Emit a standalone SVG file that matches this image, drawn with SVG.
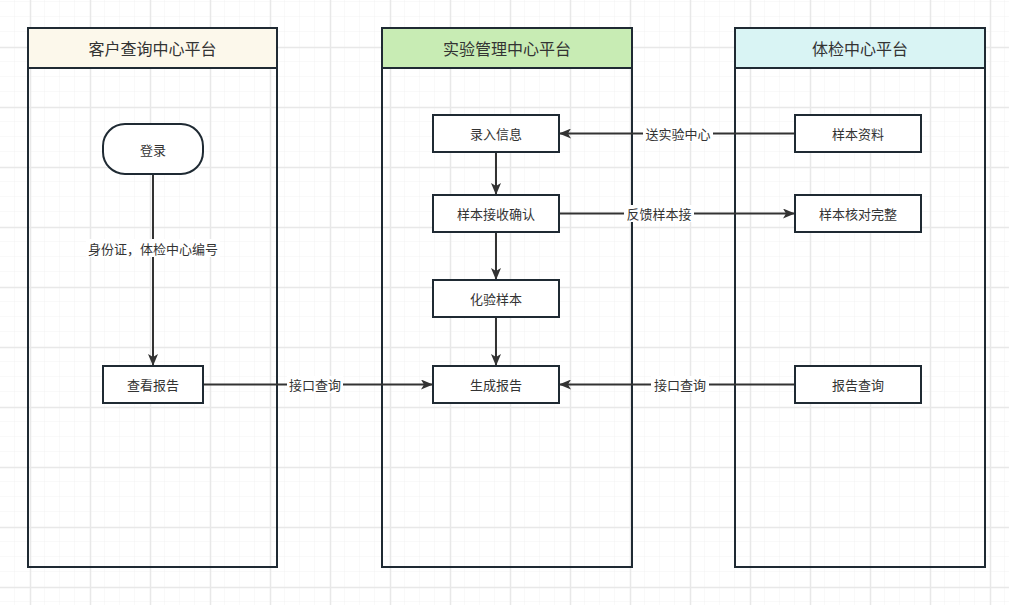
<svg xmlns="http://www.w3.org/2000/svg" width="1009" height="605" viewBox="0 0 1009 605">
<defs>
<pattern id="minor" x="0" y="2" width="15" height="15" patternUnits="userSpaceOnUse">
<path d="M15 0V15M0 15H15" fill="none" stroke="#f2f2f2" stroke-width="1"/>
</pattern>
<pattern id="major" x="30" y="47" width="60" height="60" patternUnits="userSpaceOnUse">
<path d="M0.5 0V60M0 0.5H60" fill="none" stroke="#e8e8e8" stroke-width="1.5"/>
</pattern>
<marker id="arr" viewBox="0 0 12 10" refX="11" refY="5" markerWidth="12" markerHeight="10" markerUnits="userSpaceOnUse" orient="auto">
<path d="M0 0L12 5L0 10L3 5Z" fill="#333"/>
</marker>
<style>
.lane{fill:none;stroke:#1f2a33;stroke-width:2}
.head{stroke:#1f2a33;stroke-width:2}
.htxt{font-family:"Noto Sans CJK SC","Noto Sans",sans-serif;font-size:16px;fill:#333;text-anchor:middle;dominant-baseline:central}
.box{fill:#fff;stroke:#1f2a33;stroke-width:2}
.ntxt{font-family:"Noto Sans CJK SC","Noto Sans",sans-serif;font-size:13px;fill:#333;text-anchor:middle;dominant-baseline:central}
.edge{fill:none;stroke:#333;stroke-width:2;marker-end:url(#arr)}
.lbg{fill:#fff}
.ltxt{font-family:"Noto Sans CJK SC","Noto Sans",sans-serif;font-size:13px;fill:#333;text-anchor:middle;dominant-baseline:central}
</style>
</defs>
<rect width="1009" height="605" fill="#fff"/>
<rect width="1009" height="605" fill="url(#minor)"/>
<rect width="1009" height="605" fill="url(#major)"/>

<g id="lane-customer">
<rect x="28" y="28" width="249" height="539" class="lane"/>
<rect x="28" y="28" width="249" height="40" fill="#fcf8eb" class="head"/>
<text x="152.5" y="48" class="htxt">客户查询中心平台</text>
</g>
<g id="lane-lab">
<rect x="382" y="28" width="250" height="539" class="lane"/>
<rect x="382" y="28" width="250" height="40" fill="#c8ecb4" class="head"/>
<text x="507" y="48" class="htxt">实验管理中心平台</text>
</g>
<g id="lane-exam">
<rect x="735" y="28" width="250" height="539" class="lane"/>
<rect x="735" y="28" width="250" height="40" fill="#d9f4f4" class="head"/>
<text x="860" y="48" class="htxt">体检中心平台</text>
</g>

<g id="connectors">
<line x1="153" y1="174" x2="153" y2="365" class="edge"/>
<line x1="203" y1="384.5" x2="432" y2="384.5" class="edge"/>
<line x1="795" y1="133.5" x2="560" y2="133.5" class="edge"/>
<line x1="559" y1="213.5" x2="794" y2="213.5" class="edge"/>
<line x1="795" y1="384.5" x2="560" y2="384.5" class="edge"/>
<line x1="496" y1="152" x2="496" y2="194" class="edge"/>
<line x1="496" y1="232" x2="496" y2="279" class="edge"/>
<line x1="496" y1="317" x2="496" y2="365" class="edge"/>
<rect x="86" y="239" width="134" height="18" class="lbg"/>
<text x="153" y="248" class="ltxt">身份证，体检中心编号</text>
<rect x="287" y="376" width="56" height="17" class="lbg"/>
<text x="315" y="384.5" class="ltxt">接口查询</text>
<rect x="643" y="125" width="70" height="17" class="lbg"/>
<text x="678" y="133.5" class="ltxt">送实验中心</text>
<rect x="624" y="205" width="70" height="17" class="lbg"/>
<text x="659" y="213.5" class="ltxt">反馈样本接</text>
<rect x="651" y="376" width="58" height="17" class="lbg"/>
<text x="680" y="384.5" class="ltxt">接口查询</text>
</g>

<g id="n-login">
<rect x="103" y="124" width="100" height="50" rx="22" ry="22" class="box"/>
<text x="153" y="149" class="ntxt">登录</text>
</g>
<g id="n-view">
<rect x="103" y="366" width="100" height="37" class="box"/>
<text x="153" y="384.5" class="ntxt">查看报告</text>
</g>
<g id="n-input">
<rect x="433" y="115" width="126" height="37" class="box"/>
<text x="496" y="133.5" class="ntxt">录入信息</text>
</g>
<g id="n-receive">
<rect x="433" y="195" width="126" height="37" class="box"/>
<text x="496" y="213.5" class="ntxt">样本接收确认</text>
</g>
<g id="n-test">
<rect x="433" y="280" width="126" height="37" class="box"/>
<text x="496" y="298.5" class="ntxt">化验样本</text>
</g>
<g id="n-report">
<rect x="433" y="366" width="126" height="37" class="box"/>
<text x="496" y="384.5" class="ntxt">生成报告</text>
</g>
<g id="n-sample">
<rect x="795" y="115" width="126" height="37" class="box"/>
<text x="858" y="133.5" class="ntxt">样本资料</text>
</g>
<g id="n-check">
<rect x="795" y="195" width="126" height="37" class="box"/>
<text x="858" y="213.5" class="ntxt">样本核对完整</text>
</g>
<g id="n-query">
<rect x="795" y="366" width="126" height="37" class="box"/>
<text x="858" y="384.5" class="ntxt">报告查询</text>
</g>
</svg>
